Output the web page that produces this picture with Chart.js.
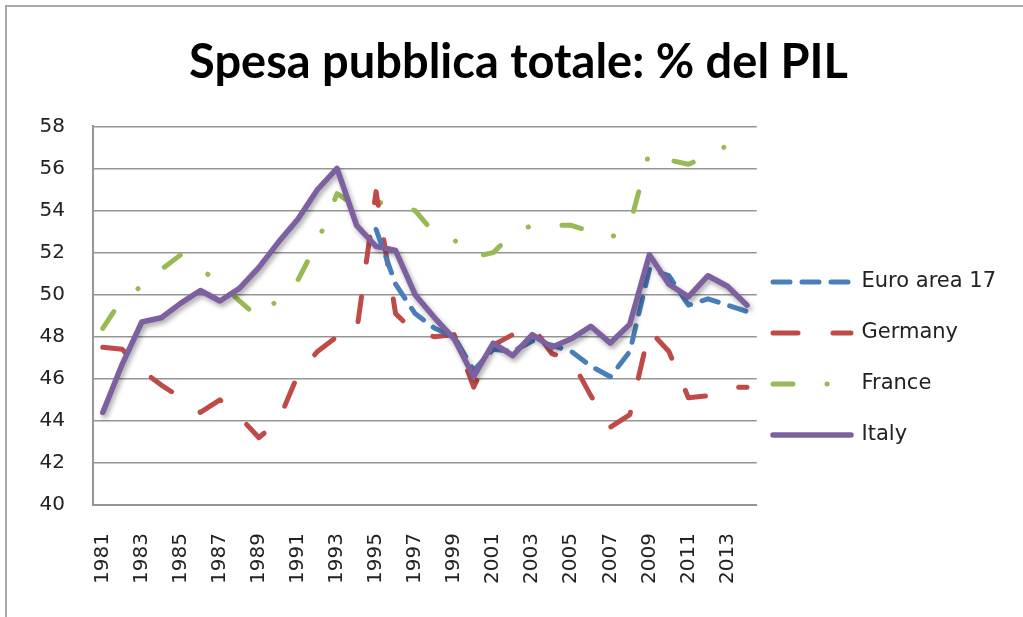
<!DOCTYPE html>
<html>
<head>
<meta charset="utf-8">
<title>Spesa pubblica totale: % del PIL</title>
<script src="https://cdn.jsdelivr.net/npm/chart.js@4.4.1/dist/chart.umd.min.js"></script>
<style>
  html, body { margin: 0; padding: 0; background: #fff; }
  #wrap { position: relative; width: 1023px; height: 617px; overflow: hidden; }
  #frame { position: absolute; left: 5px; top: 5px; width: 1100px; height: 700px;
           border-left: 2px solid #a9a9a9; border-top: 2px solid #a9a9a9; pointer-events: none; }
  canvas { position: absolute; left: 0; top: 0; }
</style>
</head>
<body>
<div id="wrap">
  <canvas id="chart" width="1023" height="617"></canvas>
  <div id="frame"></div>
</div>
<script>
// Years on the x axis
const years = ['1981', '1982', '1983', '1984', '1985', '1986', '1987', '1988', '1989', '1990',
               '1991', '1992', '1993', '1994', '1995', '1996', '1997', '1998', '1999', '2000',
               '2001', '2002', '2003', '2004', '2005', '2006', '2007', '2008', '2009', '2010',
               '2011', '2012', '2013', '2014'];

// Public spending, % of GDP
const euroArea = [null, null, null, null, null, null, null, null, null, null,
                  null, null, null, null, 53.1, 50.5, 49.1, 48.4, 48.0, 46.4,
                  47.4, 47.3, 47.8, 47.6, 47.3, 46.6, 46.1, 47.3, 51.2, 50.9,
                  49.5, 49.8, 49.5, 49.2];
const germany = [47.5, 47.4, 46.4, 45.7, 45.1, 44.4, 45.0, 44.2, 43.2, 44.0,
                 46.2, 47.3, 48.0, 48.2, 54.9, 49.1, 48.2, 48.0, 48.1, 45.6,
                 47.6, 48.1, 48.5, 47.2, 46.9, 45.2, 43.7, 44.3, 48.3, 47.3,
                 45.1, 45.2, 45.6, 45.6];
const france = [48.4, 49.8, 50.4, 51.2, 51.9, 51.2, 50.6, 49.7, 48.9, 49.8,
                50.7, 52.5, 54.8, 54.2, 54.4, 54.3, 54.0, 52.9, 52.6, 51.8,
                52.0, 52.9, 53.3, 53.3, 53.3, 53.0, 52.7, 53.3, 56.8, 56.4,
                56.2, 56.6, 57.1, 57.3];
const italy = [44.4, 46.7, 48.7, 48.9, 49.6, 50.2, 49.7, 50.3, 51.3, 52.5,
               53.6, 55.0, 56.0, 53.3, 52.3, 52.1, 50.0, 48.9, 47.9, 46.1,
               47.7, 47.1, 48.1, 47.5, 47.9, 48.5, 47.7, 48.6, 51.9, 50.5,
               49.9, 50.9, 50.4, 49.5];

const seriesNames = ['Euro area 17', 'Germany', 'France', 'Italy'];
const yTicks = [40, 42, 44, 46, 48, 50, 52, 54, 56, 58];

const TITLE_FONT = '"Liberation Sans Narrow", "Arial Narrow", Lato, sans-serif';
const TEXT_FONT = '"DejaVu Sans", Verdana, sans-serif';

// soft shadow under the Italy line, like the Excel original
const lineShadow = {
    id: 'lineShadow',
    beforeDatasetDraw(chart, args) {
        if (args.index !== 3) return;
        const ctx = chart.ctx;
        ctx.save();
        ctx.shadowColor = 'rgba(0, 0, 0, 0.35)';
        ctx.shadowBlur = 5;
        ctx.shadowOffsetX = 2;
        ctx.shadowOffsetY = 3;
    },
    afterDatasetDraw(chart, args) {
        if (args.index === 3) chart.ctx.restore();
    }
};

// legend block under the title band, title centred on the whole frame
const boxSpots = {
    id: 'boxSpots',
    afterLayout(chart) {
        const lg = chart.legend;
        const w = lg.width;
        lg.left = 743;
        lg.right = 743 + w;
        lg.top = 100;
        lg.bottom = 617;
        lg.height = lg.bottom - lg.top;

        const tb = chart.titleBlock;
        tb.left = 14;
        tb.right = 1023;
        tb.width = tb.right - tb.left;
    }
};

// legend samples keep the dash pattern of their line
function legendLabels(chart) {
    const items = Chart.defaults.plugins.legend.labels.generateLabels(chart);
    items.forEach(item => {
        const ds = chart.data.datasets[item.datasetIndex];
        item.lineDash = ds.borderDash || [];
        item.lineCap = 'round';
        item.lineWidth = ds.borderWidth;
    });
    return items;
}

const ctx = document.getElementById('chart').getContext('2d');

new Chart(ctx, {
    type: 'line',
    data: {
        labels: years,
        datasets: [
            {
                label: seriesNames[0],
                data: euroArea,
                borderColor: '#4a7ebb',
                backgroundColor: '#4a7ebb',
                borderWidth: 5,
                borderDash: [17, 12],
                borderCapStyle: 'round',
                order: 1
            },
            {
                label: seriesNames[1],
                data: germany,
                borderColor: '#be4b48',
                backgroundColor: '#be4b48',
                borderWidth: 5,
                borderDash: [25, 35],
                borderCapStyle: 'round',
                order: 2
            },
            {
                label: seriesNames[2],
                data: france,
                borderColor: '#98b954',
                backgroundColor: '#98b954',
                borderWidth: 5,
                borderDash: [20, 34, 0.1, 34],
                borderCapStyle: 'round',
                order: 3
            },
            {
                label: seriesNames[3],
                data: italy,
                borderColor: '#7d60a0',
                backgroundColor: '#7d60a0',
                borderWidth: 5.5,
                borderCapStyle: 'round',
                order: 0
            }
        ]
    },
    options: {
        responsive: false,
        animation: false,
        events: [],
        layout: { padding: { left: 0, right: 14, top: 0, bottom: 0 } },
        elements: {
            point: { radius: 0 },
            line: { tension: 0, fill: false, borderJoinStyle: 'round' }
        },
        scales: {
            x: {
                offset: true,
                grid: { display: false, drawTicks: false },
                border: { display: true, color: '#959595', width: 2 },
                ticks: {
                    autoSkip: false,
                    maxRotation: 90,
                    minRotation: 90,
                    padding: 28,
                    color: '#222',
                    font: { family: TEXT_FONT, size: 20 },
                    callback: (value, index) => index % 2 === 0 ? years[index] : ''
                },
                afterFit: (scale) => { scale.height = 112; }
            },
            y: {
                min: yTicks[0],
                max: yTicks[yTicks.length - 1],
                grid: { color: '#959595', lineWidth: 1.6, drawTicks: false },
                border: { display: true, color: '#959595', width: 2 },
                afterBuildTicks: (scale) => { scale.ticks = yTicks.map(v => ({ value: v })); },
                ticks: {
                    padding: 28,
                    color: '#222',
                    font: { family: TEXT_FONT, size: 20 }
                },
                afterFit: (scale) => { scale.width = 93; }
            }
        },
        plugins: {
            title: {
                display: true,
                text: 'Spesa pubblica totale: % del PIL',
                color: '#000',
                font: { family: TITLE_FONT, size: 47, weight: 'bold' },
                padding: { top: 35, bottom: 35 }
            },
            legend: {
                position: 'right',
                labels: {
                    usePointStyle: true,
                    pointStyle: 'line',
                    pointStyleWidth: 78,
                    padding: 30,
                    color: '#222',
                    font: { family: TEXT_FONT, size: 21 },
                    generateLabels: legendLabels,
                    sort: (a, b) => a.datasetIndex - b.datasetIndex
                }
            },
            tooltip: { enabled: false }
        }
    },
    plugins: [lineShadow, boxSpots]
});
</script>
</body>
</html>
